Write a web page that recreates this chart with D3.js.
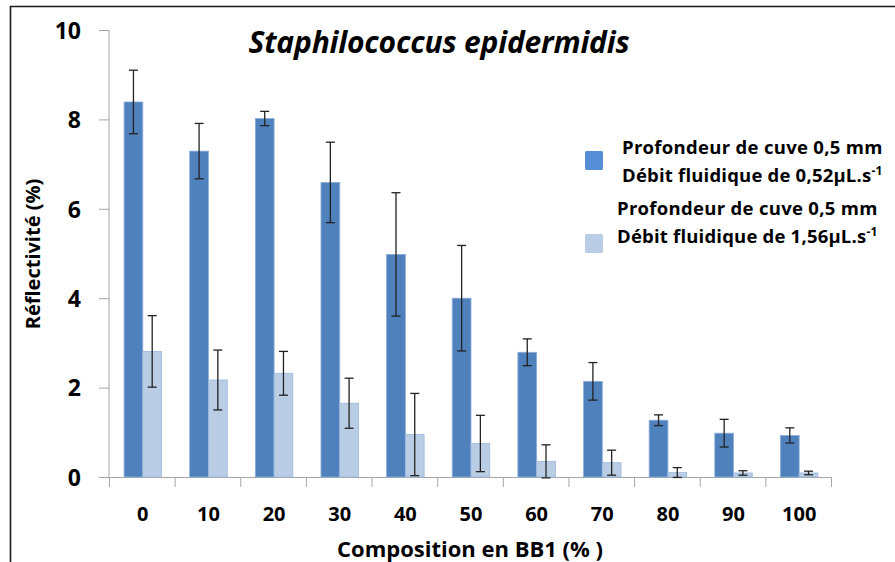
<!DOCTYPE html>
<html>
<head>
<meta charset="utf-8">
<script src="https://cdn.jsdelivr.net/npm/d3@7"></script>
<style>
  html, body { margin: 0; padding: 0; background: #fff; }
  svg { display: block; }
  text { font-family: "Open Sans", Lato, sans-serif; fill: #000; }
</style>
</head>
<body>
<svg id="chart" width="895" height="562"></svg>
<script>
// Composition en BB1 (%)
const categories = [0, 10, 20, 30, 40, 50, 60, 70, 80, 90, 100];
// Réflectivité (%) — débit 0,52 µL/s
const series1 = [8.39, 7.29, 8.02, 6.59, 4.98, 4.0, 2.79, 2.14, 1.27, 0.98, 0.93];
const err1    = [0.71, 0.62, 0.16, 0.9, 1.38, 1.18, 0.3, 0.42, 0.12, 0.31, 0.17];
// Réflectivité (%) — débit 1,56 µL/s
const series2 = [2.81, 2.17, 2.32, 1.65, 0.95, 0.75, 0.35, 0.32, 0.1, 0.09, 0.09];
const err2    = [0.8, 0.67, 0.49, 0.56, 0.92, 0.63, 0.37, 0.28, 0.11, 0.05, 0.04];
const yTicks = [0, 2, 4, 6, 8, 10];
const seriesNames = ["s1", "s2"];

const svg = d3.select("#chart");

const x = d3.scaleBand().domain(categories).range([109, 831]).paddingInner(0).paddingOuter(0);
const xs = d3.scaleBand().domain(seriesNames).range([0, x.bandwidth()]).paddingInner(0).paddingOuter(0.75);
const y = d3.scaleLinear().domain([0, 10]).range([477, 30]);

// frame
svg.append("path")
  .attr("d", "M10.5,562 L10.5,6.5 L895,6.5")
  .attr("fill", "none").attr("stroke", "#1a1a1a").attr("stroke-width", 1.6);

// title
svg.append("text")
  .attr("x", 439).attr("y", 53)
  .attr("text-anchor", "middle")
  .style("font-size", "30px").style("font-style", "italic").style("font-weight", 700)
  .style("letter-spacing", "-0.2px")
  .text("Staphilococcus epidermidis");

// y axis
const yAxis = svg.append("g").attr("transform", "translate(109,0)")
  .call(d3.axisLeft(y).tickValues(yTicks).tickSize(10).tickPadding(18).tickFormat(d3.format("d")));
yAxis.select(".domain").attr("stroke", "#a6a6a6").attr("d", `M0,${y(10)}V${y(0)}`);
yAxis.selectAll(".tick line").attr("stroke", "#a6a6a6");
yAxis.selectAll(".tick text")
  .attr("dy", "0.36em")
  .style("font-size", "23px").style("font-weight", 700)
  .style("font-family", "'Open Sans', sans-serif").attr("fill", "#000");

// x axis with ticks at category boundaries
const bounds = categories.map(c => x(c)).concat([x(categories[categories.length - 1]) + x.bandwidth()]);
const xAxisG = svg.append("g");
xAxisG.append("line")
  .attr("x1", 109).attr("x2", 831).attr("y1", y(0) + 0.5).attr("y2", y(0) + 0.5)
  .attr("stroke", "#a6a6a6");
xAxisG.selectAll("line.tk").data(bounds).join("line").attr("class", "tk")
  .attr("x1", d => d + 0.5).attr("x2", d => d + 0.5)
  .attr("y1", y(0)).attr("y2", y(0) + 10)
  .attr("stroke", "#a6a6a6");
xAxisG.selectAll("text").data(categories).join("text")
  .attr("x", d => x(d) + x.bandwidth() / 2 + 1)
  .attr("y", 521)
  .attr("text-anchor", "middle")
  .style("font-size", "20px").style("font-weight", 700)
  .text(d => d);

// axis titles
svg.append("text")
  .attr("transform", "translate(40,254) rotate(-90)")
  .attr("text-anchor", "middle")
  .style("font-size", "20px").style("font-weight", 700)
  .text("Réflectivité (%)");
svg.append("text")
  .attr("x", 470).attr("y", 557)
  .attr("text-anchor", "middle")
  .style("font-size", "22px").style("font-weight", 700)
  .text("Composition en BB1 (% )");

// bars
const rows = categories.map((c, i) => ({ c, v1: series1[i], e1: err1[i], v2: series2[i], e2: err2[i] }));
const bars = svg.append("g");
bars.selectAll("rect.s1").data(rows).join("rect").attr("class", "s1")
  .attr("x", d => x(d.c) + xs("s1") + 1).attr("width", xs.bandwidth())
  .attr("y", d => y(d.v1)).attr("height", d => y(0) - y(d.v1))
  .attr("fill", "#4f81bd").attr("stroke", "#8eaedb").attr("stroke-width", 0.8);
bars.selectAll("rect.s2").data(rows).join("rect").attr("class", "s2")
  .attr("x", d => x(d.c) + xs("s2") + 1).attr("width", xs.bandwidth())
  .attr("y", d => y(d.v2)).attr("height", d => y(0) - y(d.v2))
  .attr("fill", "#b9cde5").attr("stroke", "#9ab8de").attr("stroke-width", 0.8);

// error bars
function errorBars(cls, key, ekey, sname) {
  const g = svg.append("g").attr("class", cls);
  const cx = d => x(d.c) + xs(sname) + 1 + xs.bandwidth() / 2;
  const sel = g.selectAll("g").data(rows).join("g");
  sel.append("line")
    .attr("x1", cx).attr("x2", cx)
    .attr("y1", d => y(d[key] + d[ekey])).attr("y2", d => y(Math.max(0, d[key] - d[ekey])))
    .attr("stroke", "#222").attr("stroke-width", 1.3);
  [1, -1].forEach(s => {
    sel.append("line")
      .attr("x1", d => cx(d) - 4.5).attr("x2", d => cx(d) + 4.5)
      .attr("y1", d => y(d[key] + s * d[ekey])).attr("y2", d => y(d[key] + s * d[ekey]))
      .attr("stroke", "#222").attr("stroke-width", 1.3);
  });
}
errorBars("eb1", "v1", "e1", "s1");
errorBars("eb2", "v2", "e2", "s2");

// legend
const legendItems = [
  { color: "#558ed5", sq: 151, lines: [154, 182], tx: 622, sup: "0,52" },
  { color: "#b9cde5", sq: 234, lines: [215, 243], tx: 617, sup: "1,56" }
];
const lg = svg.append("g");
legendItems.forEach(it => {
  lg.append("rect").attr("x", 585).attr("y", it.sq).attr("width", 18).attr("height", 19)
    .attr("rx", 1.5).attr("fill", it.color);
  lg.append("text").attr("x", it.tx).attr("y", it.lines[0])
    .style("font-size", "18.5px").style("font-weight", 700).style("letter-spacing", "0.3px")
    .text("Profondeur de cuve 0,5 mm");
  const t = lg.append("text").attr("x", it.tx).attr("y", it.lines[1])
    .style("font-size", "18.5px").style("font-weight", 700).style("letter-spacing", "0.2px");
  t.append("tspan").text(`Débit fluidique  de ${it.sup}µL.s`);
  t.append("tspan").attr("dy", -7).style("font-size", "12px").text("-1");
});
</script>
</body>
</html>
